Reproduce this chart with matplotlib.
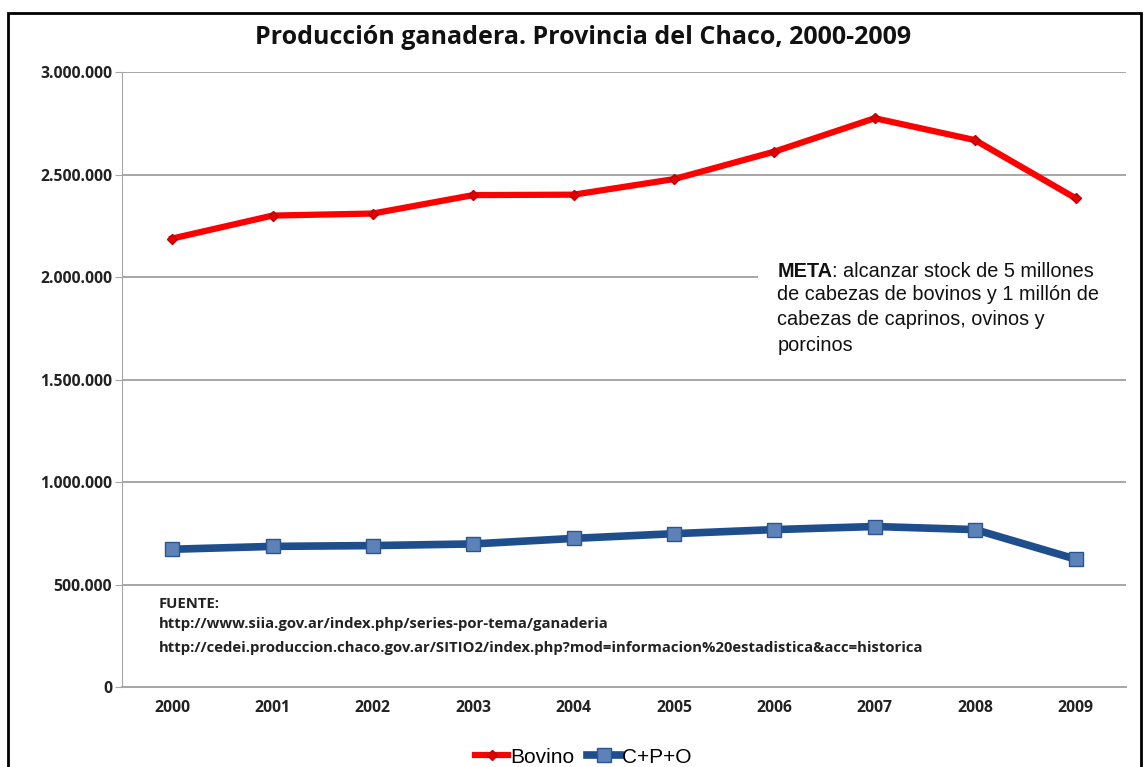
import matplotlib.pyplot as plt
from matplotlib.ticker import FuncFormatter
from matplotlib.patches import Rectangle

years = ['2000', '2001', '2002', '2003', '2004', '2005', '2006', '2007', '2008', '2009']
bovino = [2188000, 2300000, 2310000, 2400000, 2402000, 2478000, 2612000, 2775000, 2668000, 2385000]
cpo = [672000, 686000, 690000, 698000, 725000, 748000, 768000, 783000, 768000, 624000]

TITLE = 'Producción ganadera. Provincia del Chaco, 2000-2009'
FUENTE = ['FUENTE:',
          'http://www.siia.gov.ar/index.php/series-por-tema/ganaderia',
          'http://cedei.produccion.chaco.gov.ar/SITIO2/index.php?mod=informacion%20estadistica&acc=historica']
META_REST = ': alcanzar stock de 5 millones'
META_LINES = 'de cabezas de bovinos y 1 millón de\ncabezas de caprinos, ovinos y\nporcinos'


def dot_thousands(v, pos):
    return '{:,.0f}'.format(v).replace(',', '.')


fig = plt.figure(figsize=(11.44, 7.67), dpi=100)
ax = fig.add_axes([0.1066, 0.1043, 0.8774, 0.8017])

# outer black frame of the original chart object
fig.patches.append(Rectangle((0.007, -0.01), 0.99, 0.993, transform=fig.transFigure,
                             fill=False, edgecolor='black', linewidth=2))

x = list(range(len(years)))
ax.plot(x, bovino, color='#FF0000', linewidth=4.5, marker='D', markersize=5,
        markerfacecolor='#E00000', markeredgecolor='#C00000', label='Bovino', zorder=4)
ax.plot(x, cpo, color='#1F4E8C', linewidth=5.5, marker='s', markersize=10,
        markerfacecolor='#5C82B8', markeredgecolor='#2A5590', label='C+P+O', zorder=4)

ax.set_xlim(-0.5, 9.5)
ax.set_ylim(0, 3000000)
ax.set_yticks(range(0, 3000001, 500000))
ax.yaxis.set_major_formatter(FuncFormatter(dot_thousands))
ax.set_xticks(x)
ax.set_xticklabels(years)
ax.grid(axis='y', color='#A6A6A6', linewidth=1.4, zorder=0)
ax.set_axisbelow(True)

for side in ['top', 'right']:
    ax.spines[side].set_visible(False)
ax.spines['left'].set_color('#A6A6A6')
ax.spines['bottom'].set_color('#A6A6A6')
ax.spines['bottom'].set_linewidth(1.4)
ax.tick_params(axis='y', length=5, color='#A6A6A6', pad=2)
ax.tick_params(axis='x', length=0, pad=9)
for lbl in ax.get_xticklabels() + ax.get_yticklabels():
    lbl.set_fontfamily('Open Sans')
    lbl.set_fontweight('bold')
    lbl.set_fontsize(11.3)
    lbl.set_color('#222222')

fig.text(0.51, 0.951, TITLE, ha='center', va='center', fontsize=18,
         fontweight='bold', family='Open Sans', color='#111111')

# white box of the META note hides the gridline behind it
ax.add_patch(Rectangle((5.84, 1620000), 3.66, 490000, facecolor='white',
                       edgecolor='none', zorder=1))
meta = ax.text(6.03, 2027000, 'META', fontsize=14.3, fontweight='bold', family='Liberation Sans',
               va='center', ha='left', zorder=5, color='#111111')
ax.annotate(META_REST, xy=(1, 0), xycoords=meta, va='bottom', ha='left',
            fontsize=14.3, family='Liberation Sans', color='#111111', zorder=5)
ax.annotate(META_LINES, xy=(0, 0), xycoords=meta, xytext=(0, -3), textcoords='offset points',
            va='top', ha='left', fontsize=14.3, family='Liberation Sans', color='#111111',
            linespacing=1.42, zorder=5)

fy = [0.213, 0.187, 0.155]
for t, yy in zip(FUENTE, fy):
    fig.text(0.139, yy, t, fontsize=10.7, fontweight='bold', family='Open Sans',
             va='center', ha='left', color='#222222')

leg = fig.legend(loc='center', bbox_to_anchor=(0.51, 0.013), ncol=2, frameon=False,
                 prop={'family': 'Liberation Sans', 'size': 15}, handlelength=1.6,
                 handletextpad=0.1, columnspacing=0.6)

fig.savefig('out.png', dpi=100)
